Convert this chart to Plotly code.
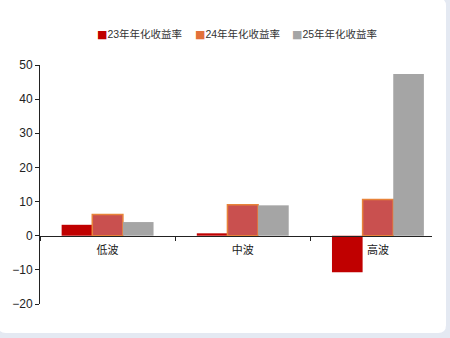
import plotly.graph_objects as go

categories = ["低波", "中波", "高波"]
series_names = ["23年年化收益率", "24年年化收益率", "25年年化收益率"]
ret23 = [3.2, 0.7, -10.7]
ret24 = [6.2, 9.1, 10.6]
ret25 = [4.0, 8.9, 47.4]
y_ticks = [-20, -10, 0, 10, 20, 30, 40, 50]

fill_colors = ["#C00000", "#C9504F", "#A5A5A5"]
legend_colors = ["#C00000", "#E2703A", "#A5A5A5"]

W, H = 450, 338
ML, MR, MT, MB = 40, 18, 65, 34
plot_w, plot_h = W - ML - MR, H - MT - MB


def px_x(px):
    return (px - ML) / plot_w


def px_y(py):
    return (H - MB - py) / plot_h


fig = go.Figure()
fig.add_trace(go.Bar(x=categories, y=ret23, name=series_names[0],
                     marker=dict(color=fill_colors[0], line=dict(width=0))))
fig.add_trace(go.Bar(x=categories, y=ret24, name=series_names[1],
                     marker=dict(color=fill_colors[1], line=dict(color="#E8833A", width=1.5))))
fig.add_trace(go.Bar(x=categories, y=ret25, name=series_names[2],
                     marker=dict(color=fill_colors[2], line=dict(width=0))))

# compact legend drawn as text (marker glyph + label)
legend_px = [95, 193, 290]
for px, name, col in zip(legend_px, series_names, legend_colors):
    fig.add_annotation(
        xref="paper", yref="paper", x=px_x(px), y=px_y(34.5),
        xanchor="left", yanchor="middle", showarrow=False,
        text=f"<span style='color:{col};font-size:11px;font-family:DejaVu Sans'>■</span>{name}",
        font=dict(family="Liberation Sans, Noto Sans CJK SC", size=10.5, color="#333"),
    )

# white card with rounded corners over a pale frame
r = 8
x0, x1, y0, y1 = -2, 446, -2, 333
path = (f"M {px_x(x0)},{px_y(y0)} L {px_x(x1 - r)},{px_y(y0)} "
        f"Q {px_x(x1)},{px_y(y0)} {px_x(x1)},{px_y(y0 + r)} "
        f"L {px_x(x1)},{px_y(y1 - r)} Q {px_x(x1)},{px_y(y1)} {px_x(x1 - r)},{px_y(y1)} "
        f"L {px_x(x0 + r)},{px_y(y1)} Q {px_x(x0)},{px_y(y1)} {px_x(x0)},{px_y(y1 - r)} Z")
fig.add_shape(type="path", path=path, xref="paper", yref="paper",
              fillcolor="white", line=dict(width=0), layer="below")

fig.update_layout(
    width=W, height=H,
    margin=dict(l=ML, r=MR, t=MT, b=MB),
    paper_bgcolor="#E4E9F2", plot_bgcolor="rgba(0,0,0,0)",
    barmode="group", bargap=0.32, bargroupgap=0,
    font=dict(family="Liberation Sans, Noto Sans CJK SC", size=12, color="#222"),
    showlegend=False,
    xaxis=dict(range=[-0.5, 2.4], anchor="free", position=20/70,
               showline=True, linecolor="#222", linewidth=1,
               ticks="outside", tickson="boundaries", ticklen=4, tickcolor="#222",
               ticklabelstandoff=4,
               showgrid=False, zeroline=False,
               tickfont=dict(family="Noto Sans CJK SC", size=11, color="#222")),
    yaxis=dict(range=[-20, 50], tickvals=y_ticks, showline=True, linecolor="#222",
               linewidth=1, ticks="outside", ticklen=4, tickcolor="#222",
               showgrid=False, zeroline=False,
               tickfont=dict(family="Liberation Sans", size=12, color="#222")),
)

fig.write_html("out.html")
